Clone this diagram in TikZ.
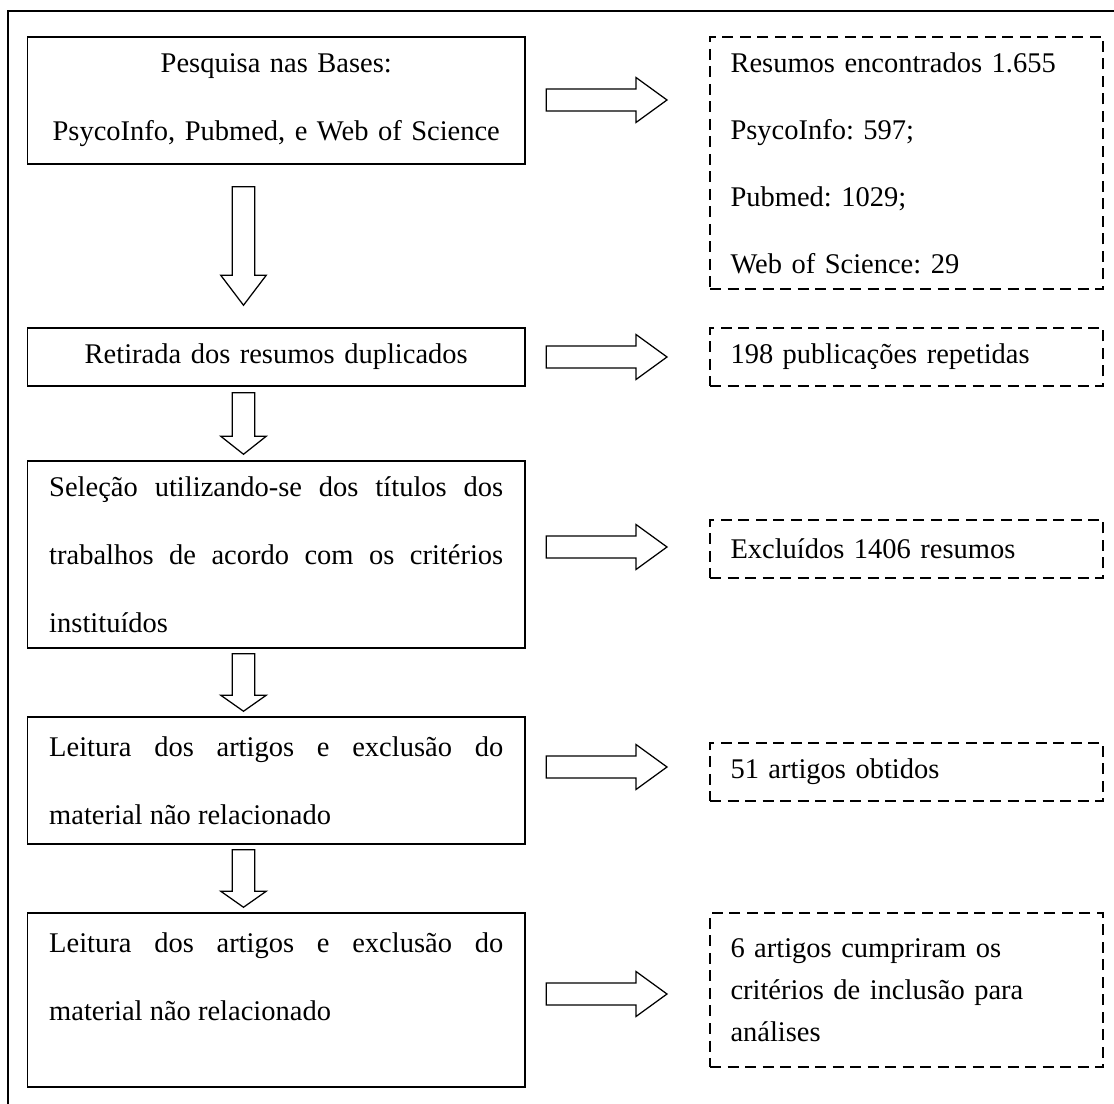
\documentclass[tikz,border=0pt]{standalone}
\usepackage{fontspec}
\setmainfont{Liberation Serif}
\usetikzlibrary{calc}
\frenchspacing

\tikzset{
  passo/.style={draw, line width=0.6pt, minimum width=199pt, text width=181.6pt, inner sep=2pt, font=\fontsize{11.4}{27.2}\selectfont},
  resultado/.style={draw, line width=0.8pt, dash pattern=on 4.4pt off 2.6pt, minimum width=157.2pt, text width=140.8pt, align=left, inner sep=2pt, font=\fontsize{11.4}{26.8}\selectfont},
  seta/.style={draw, line width=0.5pt, fill=white},
}

\newcommand{\rightblock}[3]{%
  \path (#1.east |- 0,#3) coordinate (p) (#2.west |- 0,#3) coordinate (q);
  \draw[seta] ($(p)+(20.5,-11)$) -- ($(q)+(-73,-11)$) -- ($(q)+(-73,-22.5)$) -- ($(q)+(-42,0)$) -- ($(q)+(-73,22.5)$) -- ($(q)+(-73,11)$) -- ($(p)+(20.5,11)$) -- cycle;}

\newcommand{\downblock}[4]{%
  \coordinate (p) at ($(#1.south)+(-32.75,#3)$);
  \coordinate (q) at ($(#2.north)+(-32.75,-#3)$);
  \draw[seta] ($(p)+(-11.25,0)$) -- ($(q)+(-11.25,-#4)$) -- ($(q)+(-22.75,-#4)$) -- (q) -- ($(q)+(22.75,-#4)$) -- ($(q)+(11.25,-#4)$) -- ($(p)+(11.25,0)$) -- cycle;}

\begin{document}
\begin{tikzpicture}[x=0.4pt, y=-0.4pt]
    \useasboundingbox (0,0) rectangle (1114,1104);
    \draw[line width=0.8pt] (8,1104) -- (8,11) -- (1114,11);

    \node[passo, align=center, text width=192pt, minimum height=50.8pt] (pesquisa) at (276.25,100.5) {Pesquisa nas Bases:\\PsycoInfo, Pubmed, e Web of Science};
    \node[passo, align=center, minimum height=23.2pt] (retirada) at (276.25,357) {Retirada dos resumos duplicados};
    \node[passo, align=justify, minimum height=74.8pt] (selecao) at (276.25,554.5) {Seleção utilizando-se dos títulos dos\linebreak trabalhos de acordo com os critérios\linebreak instituídos};
    \node[passo, align=justify, minimum height=50.8pt] (leitura) at (276.25,780.5) {Leitura dos artigos e exclusão do\linebreak material não relacionado};
    \node[passo, align=justify, minimum height=69.6pt, text depth=46pt] (leitura2) at (276.25,1000) {Leitura dos artigos e exclusão do\linebreak material não relacionado};

    \node[resultado, minimum height=100.8pt] (bases) at (906.5,163) {Resumos encontrados 1.655\\PsycoInfo: 597;\\Pubmed: 1029;\\Web of Science: 29};
    \node[resultado, minimum height=23.2pt] (repetidas) at (906.5,357) {198 publicações repetidas};
    \node[resultado, minimum height=23.2pt] (excluidos) at (906.5,549) {Excluídos 1406 resumos};
    \node[resultado, minimum height=23.2pt] (obtidos) at (906.5,772) {51 artigos obtidos};
    \node[resultado, minimum height=61.6pt, font=\fontsize{11.4}{16.8}\selectfont] (incluidos) at (906.5,990) {6 artigos cumpriram os\\critérios de inclusão para\\análises};

    \rightblock{pesquisa}{bases}{100}
    \rightblock{retirada}{repetidas}{357}
    \rightblock{selecao}{excluidos}{547}
    \rightblock{leitura}{obtidos}{767}
    \rightblock{leitura2}{incluidos}{994}

    \downblock{pesquisa}{retirada}{22}{30}
    \downblock{retirada}{selecao}{6}{18}
    \downblock{selecao}{leitura}{5}{16}
    \downblock{leitura}{leitura2}{5}{16}
\end{tikzpicture}
\end{document}
